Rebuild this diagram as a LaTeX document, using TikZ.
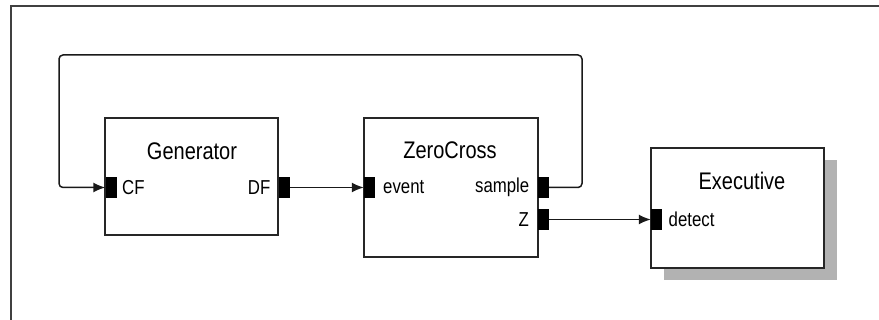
\documentclass[tikz,border=0pt]{standalone}
\usepackage{fontspec}
\setmainfont{Liberation Sans}
\usetikzlibrary{arrows.meta,shadows}
\newcommand\vstr[1]{\scalebox{1}[1.2]{#1}}
\begin{document}
\begin{tikzpicture}[x=1pt,y=-1pt,
  block/.style={draw=black!85, line width=1.6pt, fill=white, inner sep=0pt},
  shadowed/.style={drop shadow={shadow xshift=13pt, shadow yshift=-12pt, fill=black!30, opacity=1}},
  port/.style={fill=black, draw=none, minimum width=11pt, minimum height=21pt, inner sep=0pt},
  title/.style={font=\fontsize{20}{22}\selectfont, inner sep=0pt},
  plabel/.style={font=\fontsize{16.8}{18}\selectfont, inner sep=0pt},
  wire/.style={line width=1.5pt, draw=black!90},
  arr/.style={wire, -{Latex[length=12pt,width=10pt]}}]
\useasboundingbox (0,0) rectangle (879,320);
\draw[line width=1.6pt, black!75] (11,320) -- (11,6) -- (879,6);

% blocks
\node[block, minimum width=173pt, minimum height=117pt] (gen) at (191.5,176.5) {};
\node[block, minimum width=174pt, minimum height=139pt] (zc) at (451,187.5) {};
\node[block, shadowed, minimum width=173pt, minimum height=120pt] (exe) at (737.5,208) {};

% titles
\node[title] (genT) at (192,151) {\vstr{Generator}};
\node[title] (zcT) at (450,150) {\vstr{ZeroCross}};
\node[title] (exeT) at (742,181) {\vstr{Executive}};

% ports
\node[port] (CF) at (111,187.5) {};
\node[port] (DF) at (284.5,187.5) {};
\node[port] (event) at (369.5,187.5) {};
\node[port] (sample) at (543.5,187.5) {};
\node[port] (Z) at (543.5,219.5) {};
\node[port] (detect) at (656.5,219.5) {};

% port labels
\node[plabel, anchor=west] (CFl) at (122,187.5) {\vstr{CF}};
\node[plabel, anchor=east] (DFl) at (270.5,187.5) {\vstr{DF}};
\node[plabel, anchor=west] (eventl) at (383,187.5) {\vstr{event}};
\node[plabel, anchor=east] (samplel) at (529.5,187.5) {\vstr{sample}};
\node[plabel, anchor=east] (Zl) at (529,219.5) {\vstr{Z}};
\node[plabel, anchor=west] (detectl) at (668.5,219.5) {\vstr{detect}};

% connectors
\coordinate (loopR) at (582,55);
\coordinate (loopL) at (59,55);
\draw[arr] (DF.east) -- (event.west);
\draw[arr] (Z.east) -- (detect.west);
\draw[arr, rounded corners=4pt] (sample.east) -| (loopR) -- (loopL) |- (CF.west);
\end{tikzpicture}
\end{document}
